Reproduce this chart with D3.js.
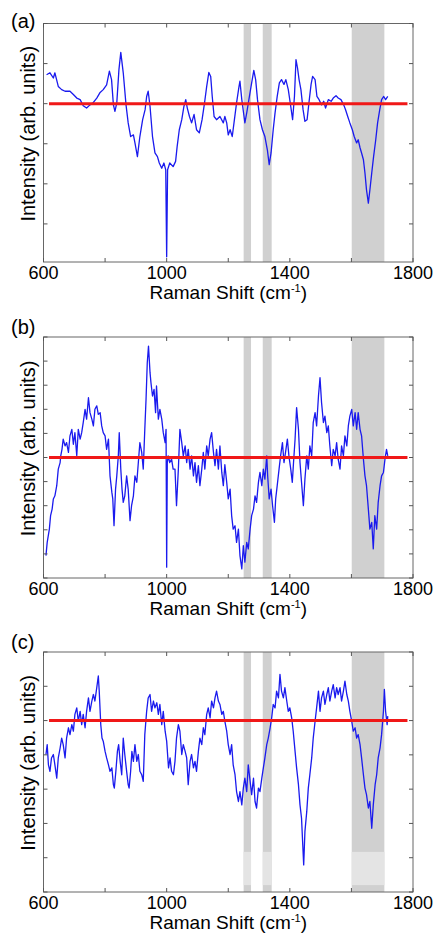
<!DOCTYPE html>
<html>
<head>
<meta charset="utf-8">
<script src="https://cdn.jsdelivr.net/npm/d3@7/dist/d3.min.js"></script>
<style>
  body { margin: 0; background: #fff; }
  text { font-family: "Liberation Sans", Arial, sans-serif; fill: #000; }
</style>
</head>
<body>
<div id="chart"></div>
<script>
// Raman shift (cm-1) and relative intensity
var shiftA = [610,621,632,637,648,659,670,686,697,708,719,729,740,751,762,773,783,794,805,814,821,827,832,838,845,851,859,868,875,883,892,897,905,913,922,930,935,940,946,954,962,970,976,984,991,997,1000,1003,1010,1021,1029,1034,1041,1049,1056,1062,1067,1074,1081,1089,1097,1106,1115,1123,1130,1137,1143,1148,1154,1162,1173,1184,1189,1195,1200,1206,1213,1220,1227,1235,1238,1244,1249,1254,1260,1267,1276,1283,1289,1295,1303,1311,1319,1327,1333,1339,1346,1352,1359,1366,1373,1381,1387,1395,1403,1409,1415,1420,1425,1430,1436,1443,1449,1456,1462,1469,1474,1482,1488,1495,1503,1510,1516,1525,1534,1541,1550,1557,1566,1575,1581,1588,1595,1603,1609,1617,1622,1628,1633,1639,1644,1649,1655,1660,1666,1672,1679,1685,1692,1698,1705,1711,1718];
var intA = [0.72,0.77,0.64,0.77,0.43,0.35,0.31,0.31,0.23,0.14,0.10,-0.05,-0.11,-0.03,0.03,0.14,0.27,0.35,0.47,0.81,0.6,-0.03,-0.19,0.02,0.85,1.28,0.77,-0.03,-0.48,-0.82,-0.78,-0.98,-1.32,-0.82,-0.4,-0.15,0.18,0.31,-0.07,-0.82,-1.23,-1.32,-1.48,-1.61,-1.48,-1.65,-3.82,-1.65,-1.48,-1.57,-1.44,-1.07,-0.65,-0.4,-0.07,0.1,-0.11,-0.32,-0.48,-0.27,-0.65,-0.73,-0.4,0.02,0.43,0.78,0.68,0.18,-0.32,-0.4,-0.32,-0.48,-0.32,-0.48,-0.78,-0.65,-0.82,-0.4,0.02,0.43,0.56,0.1,-0.19,-0.48,-0.23,0.1,0.52,0.83,0.6,0.1,-0.4,-0.65,-0.82,-1.15,-1.52,-1.23,-0.65,-0.23,0.18,0.52,0.6,0.48,0.6,0.35,-0.07,-0.4,0.18,1.1,0.89,0.6,0.35,-0.15,-0.44,-0.4,0.02,0.48,0.68,0.6,0.18,0.1,-0.03,0.06,-0.11,0.1,0.06,0.14,0.2,0.14,0.1,-0.03,-0.15,-0.32,-0.48,-0.65,-0.82,-0.98,-0.9,-1.1,-1.23,-1.4,-1.73,-2.15,-2.48,-2.15,-1.73,-1.32,-0.9,-0.48,-0.15,0.1,0.18,0.1,0.18];

var shiftB = [608,612,619,623,628,632,637,643,648,654,656,660,664,670,675,681,686,692,697,702,708,713,719,724,729,735,740,746,751,757,762,767,773,778,784,789,794,800,805,811,816,822,825,829,834,838,843,846,851,855,859,864,870,875,881,886,892,897,903,908,913,919,924,929,933,937,941,946,949,954,959,964,967,973,978,984,989,995,998,1000,1002,1005,1010,1016,1021,1027,1032,1038,1043,1049,1054,1060,1065,1070,1076,1081,1087,1092,1097,1103,1108,1114,1119,1124,1130,1135,1141,1146,1152,1157,1162,1168,1173,1179,1184,1189,1195,1200,1206,1211,1216,1222,1227,1233,1238,1244,1249,1254,1260,1265,1271,1276,1282,1287,1292,1298,1303,1309,1314,1319,1325,1328,1333,1339,1344,1350,1354,1359,1365,1370,1376,1381,1386,1392,1397,1403,1408,1412,1417,1422,1428,1433,1438,1444,1449,1455,1460,1465,1471,1476,1482,1487,1493,1498,1503,1509,1514,1520,1525,1530,1536,1541,1547,1552,1557,1563,1568,1574,1579,1585,1590,1595,1601,1606,1612,1617,1622,1628,1633,1639,1644,1649,1655,1660,1666,1671,1676,1682,1687,1693,1698,1704,1709,1714,1718];
var intB = [-4.07,-3.52,-2.97,-2.41,-2.14,-1.72,-1.59,-1.17,-0.48,-0.21,0.07,0.34,0.76,0.48,0.62,0.21,0.9,1.17,0.55,1.03,0.07,1.17,0.76,1.03,1.45,2.0,1.59,2.48,1.86,1.59,1.31,2.0,2.14,1.79,1.86,1.31,1.03,0.9,0.34,0.76,-0.76,-1.45,-1.72,-2.83,-1.31,-0.76,0.07,1.03,-0.48,-1.31,-1.86,-1.59,-0.76,-1.31,-2.62,-2.0,-1.59,-0.76,-1.03,-0.21,0.62,0.21,-0.48,1.17,2.41,3.93,4.62,3.52,3.1,2.55,2.83,1.86,2.97,1.59,2.0,1.59,1.03,0.62,1.17,-4.55,-0.21,0.07,-0.21,-0.07,-0.48,-0.48,-2.0,-0.48,1.17,0.62,0.07,0.48,-0.21,0.34,-0.48,0.07,-0.76,-0.21,-1.03,-0.34,-1.17,-0.48,0.21,-0.48,0.48,0.07,0.76,1.03,0.21,-0.34,0.34,-0.48,0.48,-0.62,-1.17,-0.3,-1.03,-1.72,-1.31,-2.41,-2.97,-2.83,-3.52,-2.97,-4.07,-4.62,-3.66,-4.34,-3.52,-3.79,-2.97,-2.41,-2.14,-1.59,-1.86,-1.03,-0.62,-1.17,-0.48,-0.9,0.07,-0.76,-1.72,-1.31,-2.0,-2.69,-1.72,-1.17,-0.48,0.07,0.62,-0.21,0.21,0.76,0.07,-0.48,-1.03,-0.21,0.76,2.07,1.17,-0.21,-1.03,-2.0,-0.9,0.07,-0.48,0.48,0.07,1.45,1.86,1.31,2.55,3.31,2.28,1.45,1.72,1.03,1.31,0.48,-0.34,0.34,0.07,0.62,-0.07,-0.48,0.48,0.07,0.9,0.48,1.31,1.72,2.0,1.31,1.86,1.17,1.86,1.17,0.9,-0.07,-0.76,-1.17,-2.14,-2.97,-2.69,-3.79,-2.41,-2.97,-1.86,-1.17,-0.76,-0.62,-0.07,0.34,0.07];

var shiftC = [608,612,616,621,626,632,637,643,648,654,659,664,670,675,681,686,692,697,702,708,713,719,724,729,735,740,746,751,757,762,767,773,778,781,786,790,794,800,805,811,816,822,827,830,835,840,844,849,854,859,864,870,875,878,883,887,892,897,903,908,913,919,924,929,935,940,946,951,957,962,968,973,978,984,989,995,1000,1006,1011,1016,1022,1027,1032,1038,1043,1049,1054,1060,1065,1070,1076,1081,1087,1092,1097,1103,1108,1114,1119,1124,1130,1135,1141,1146,1152,1157,1162,1168,1173,1179,1184,1189,1195,1200,1206,1211,1216,1222,1227,1233,1238,1244,1249,1254,1260,1265,1271,1276,1282,1287,1292,1298,1303,1309,1314,1319,1325,1330,1336,1341,1346,1352,1357,1363,1368,1373,1379,1384,1390,1395,1400,1406,1411,1417,1422,1428,1433,1438,1442,1445,1449,1455,1460,1465,1471,1476,1482,1487,1493,1498,1503,1509,1514,1520,1525,1530,1536,1541,1547,1552,1557,1563,1568,1574,1579,1585,1590,1595,1601,1606,1612,1617,1622,1628,1633,1639,1644,1649,1655,1660,1666,1671,1677,1682,1687,1693,1698,1704,1707,1711,1716,1718];
var intC = [-0.99,-0.70,-1.29,-1.48,-1.09,-0.99,-1.29,-1.68,-1.09,-0.80,-0.51,-0.70,-1.09,-0.51,-0.21,-0.41,-0.12,-0.31,0.18,0.37,-0.02,0.27,-0.12,0.18,-0.21,0.27,0.66,0.27,0.57,0.76,0.57,0.96,1.30,0.86,-0.12,-0.51,-0.60,-0.90,-1.09,-1.29,-1.48,-1.38,-1.87,-1.97,-1.48,-0.90,-0.70,-1.19,-1.58,-0.51,-0.99,-1.48,-1.87,-1.97,-1.48,-0.90,-1.19,-0.70,-1.19,-0.99,-1.48,-1.58,-1.77,-0.41,0.27,0.66,0.76,0.27,0.57,0.37,0.52,0.18,0.47,-0.12,0.27,-0.31,-0.60,-1.38,-1.09,-1.48,-1.58,-1.19,-0.51,-0.12,-0.31,-0.99,-0.70,-0.90,-1.09,-1.87,-1.19,-0.99,-1.38,-1.19,-1.48,-0.90,-0.51,-0.70,-0.21,-0.41,0.18,0.37,0.08,0.57,0.37,0.66,0.86,0.57,0.47,0.18,0.27,-0.02,-0.31,-0.70,-0.99,-0.70,-1.29,-1.58,-2.07,-2.36,-2.07,-2.46,-1.97,-1.68,-2.07,-1.29,-1.77,-2.16,-1.68,-2.36,-2.55,-1.97,-2.07,-1.68,-1.38,-1.09,-0.70,-0.51,-0.21,0.08,0.47,0.37,0.86,0.66,1.35,0.86,0.66,0.96,0.57,0.27,0.37,0.08,-0.31,-0.90,-1.38,-1.87,-2.46,-2.85,-3.63,-4.21,-3.24,-2.65,-1.97,-1.58,-1.09,-0.51,-0.02,0.37,0.86,0.27,0.66,0.86,0.47,0.76,0.96,0.57,0.86,1.05,0.66,0.96,0.76,0.96,0.57,0.86,1.15,0.76,0.57,0.27,-0.02,-0.31,-0.21,-0.51,-0.41,-0.70,-1.09,-1.58,-1.97,-2.16,-2.55,-2.36,-3.14,-2.46,-1.87,-1.58,-1.09,-0.80,-0.41,0.27,0.91,0.27,-0.12,0.13];

// shaded wavenumber windows (cm-1)
var bandStart = [1250, 1312, 1601];
var bandEnd = [1274, 1341, 1707];
// paler strip in the lower part of the (c) bands
var paleStripC = [-4.8, -3.83];

var baselineFrom = 618, baselineTo = 1782;
var xTicks = [600, 800, 1000, 1200, 1400, 1600, 1800];
var xLabels = [600, 1000, 1400, 1800];

var W = 437, H = 938;
var svg = d3.select('#chart').append('svg').attr('width', W).attr('height', H);

var x = d3.scaleLinear().domain([600, 1800]).range([43.5, 413]);

var panels = [
  {name: '(a)', top: 23.5, bottom: 262, dom: [-3.95, 2], s: shiftA, v: intA, labY: 28},
  {name: '(b)', top: 337, bottom: 578, dom: [-5, 5], s: shiftB, v: intB, labY: 334},
  {name: '(c)', top: 652, bottom: 892, dom: [-5, 2], s: shiftC, v: intC, labY: 649, pale: paleStripC}
];

panels.forEach(function(p) {
  var y = d3.scaleLinear().domain(p.dom).range([p.bottom, p.top]);
  var g = svg.append('g');

  // bands
  bandStart.forEach(function(b, i) {
    g.append('rect')
      .attr('x', x(b)).attr('width', x(bandEnd[i]) - x(b))
      .attr('y', p.top).attr('height', p.bottom - p.top)
      .style('fill', '#d0d0d0');
    if (p.pale) {
      g.append('rect')
        .attr('x', x(b)).attr('width', x(bandEnd[i]) - x(b))
        .attr('y', y(p.pale[1])).attr('height', y(p.pale[0]) - y(p.pale[1]))
        .style('fill', '#e4e4e4');
    }
  });

  var line = d3.line().x(function(d) { return x(d[0]); }).y(function(d) { return y(d[1]); });
  g.append('path')
    .datum(d3.zip(p.s, p.v))
    .attr('d', line)
    .style('fill', 'none').style('stroke', '#1a1aee').style('stroke-width', 1.3)
    .style('stroke-linejoin', 'round');

  // red zero line
  g.append('line')
    .attr('x1', x(baselineFrom)).attr('x2', x(baselineTo))
    .attr('y1', y(0)).attr('y2', y(0))
    .style('stroke', '#f01818').style('stroke-width', 3);

  // frame
  g.append('rect')
    .attr('x', x(600)).attr('y', p.top)
    .attr('width', x(1800) - x(600)).attr('height', p.bottom - p.top)
    .style('fill', 'none').style('stroke', '#666').style('stroke-width', 1);

  // ticks on all four sides, pointing in
  xTicks.forEach(function(t) {
    g.append('line').attr('x1', x(t)).attr('x2', x(t)).attr('y1', p.bottom).attr('y2', p.bottom - 4).style('stroke', '#555');
    g.append('line').attr('x1', x(t)).attr('x2', x(t)).attr('y1', p.top).attr('y2', p.top + 4).style('stroke', '#555');
  });
  d3.range(Math.ceil(p.dom[0]), Math.floor(p.dom[1]) + 1).forEach(function(t) {
    g.append('line').attr('x1', x(600)).attr('x2', x(600) + 4).attr('y1', y(t)).attr('y2', y(t)).style('stroke', '#555');
    g.append('line').attr('x1', x(1800)).attr('x2', x(1800) - 4).attr('y1', y(t)).attr('y2', y(t)).style('stroke', '#555');
  });

  g.selectAll('text.xl').data(xLabels).enter().append('text')
    .attr('x', function(d) { return x(d); })
    .attr('y', p.bottom + 17)
    .attr('text-anchor', 'middle')
    .style('font-size', '18px')
    .text(function(d) { return d; });

  var xt = g.append('text')
    .attr('x', (x(600) + x(1800)) / 2)
    .attr('y', p.bottom + 37)
    .attr('text-anchor', 'middle')
    .style('font-size', '19px');
  xt.append('tspan').text('Raman Shift (cm');
  xt.append('tspan').attr('dy', -7).style('font-size', '11px').text('-1');
  xt.append('tspan').attr('dy', 7).text(')');

  g.append('text')
    .attr('transform', 'translate(35,' + ((p.top + p.bottom) / 2 - 9) + ') rotate(-90)')
    .attr('text-anchor', 'middle')
    .style('font-size', '20px')
    .text('Intensity (arb. units)');

  g.append('text')
    .attr('x', 11).attr('y', p.labY)
    .style('font-size', '20px')
    .text(p.name);
});
</script>
</body>
</html>
